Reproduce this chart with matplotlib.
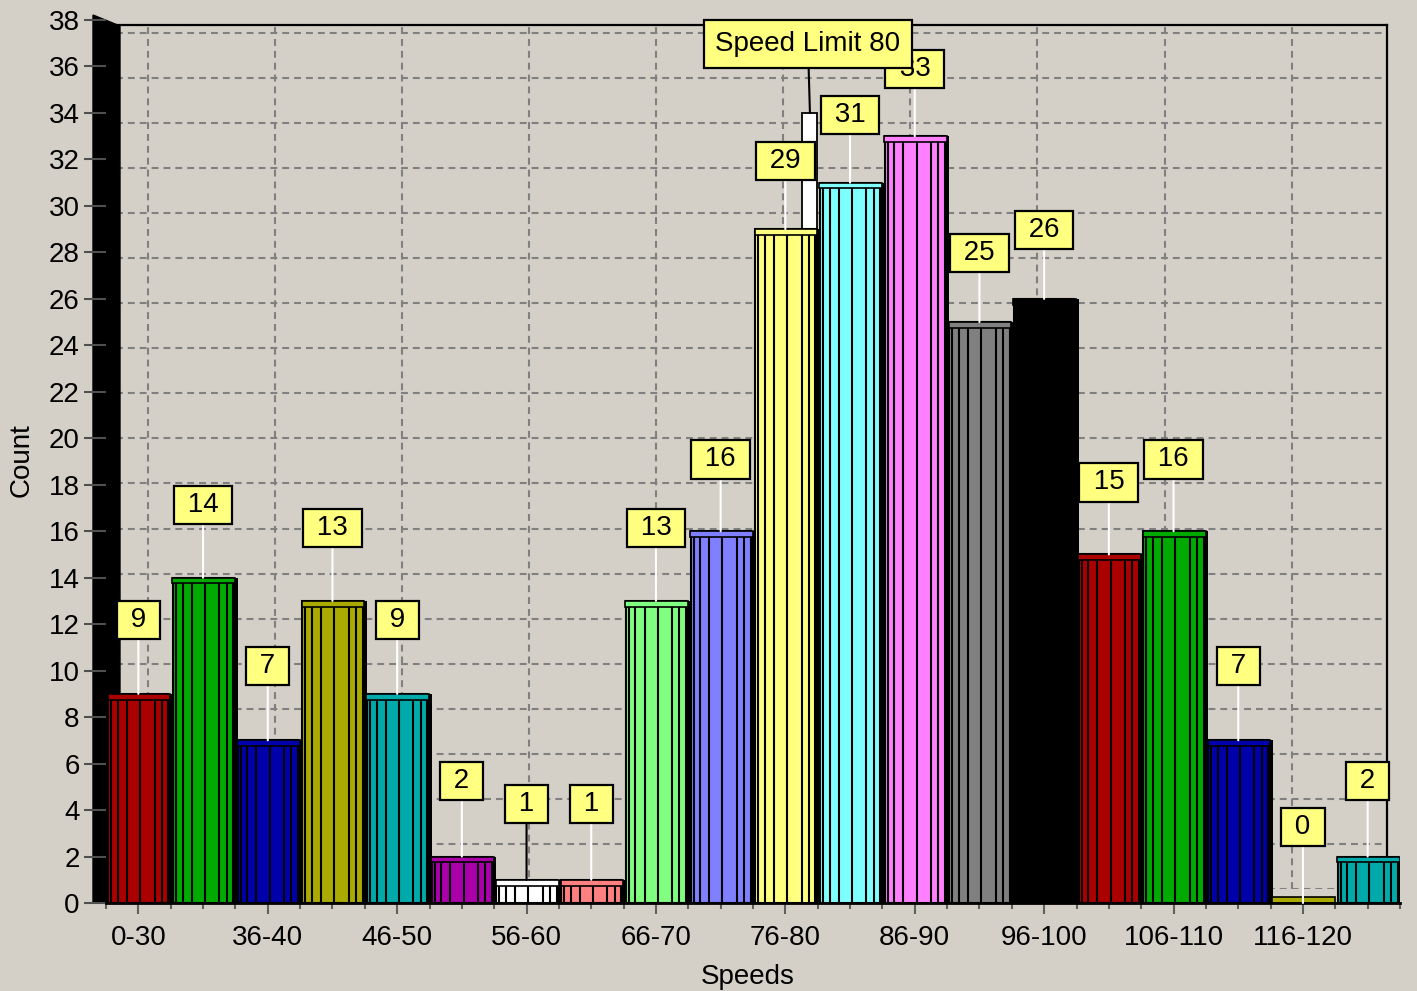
import matplotlib
matplotlib.use('Agg')
import matplotlib.pyplot as plt
from matplotlib.patches import Polygon
from matplotlib.ticker import FixedLocator
import numpy as np

# ---------------- data ----------------
categories = ['0-30', '31-35', '36-40', '41-45', '46-50', '51-55', '56-60', '61-65',
              '66-70', '71-75', '76-80', '81-85', '86-90', '91-95', '96-100',
              '101-105', '106-110', '111-115', '116-120', '121-125']
counts = [9, 14, 7, 13, 9, 2, 1, 1, 13, 16, 29, 31, 33, 25, 26, 15, 16, 7, 0, 2]
bar_colors = ['#AA0000', '#00AA00', '#0000AA', '#AAAA00', '#00AAAA', '#AA00AA',
              '#FFFFFF', '#FF8080', '#80FF80', '#8080FF', '#FFFF80', '#80FFFF',
              '#FF80FF', '#808080', '#000000', '#AA0000', '#00AA00', '#0000AA',
              '#AAAA00', '#00AAAA']
y_ticks = list(range(0, 39, 2))
limit_label = 'Speed Limit 80'
limit_value = 34
limit_pos = 10.38
x_label = 'Speeds'
y_label = 'Count'

# ---------------- style ----------------
W, H = 1417, 991
BG = '#D4D0C8'
FS = 20
plt.rcParams['font.family'] = ['Liberation Sans', 'DejaVu Sans']

fig = plt.figure(figsize=(W / 100, H / 100), dpi=100, facecolor=BG)


def fx(x):
    return x / W


def fy(y):
    return 1 - y / H


# back plane (grid + frame)
back = fig.add_axes([fx(116), fy(889), (1387 - 116) / W, (889 - 25) / H])
back.set_facecolor(BG)
back.set_xlim(-0.5, 19.5)
back.set_ylim(0, 38.35)
back.set_xticks(range(0, 20, 2))
back.set_yticks(y_ticks)
back.grid(True, ls=(0, (3.3, 2.4)), color='#808080', lw=1.5)
back.tick_params(length=0, labelleft=False, labelbottom=False)
for s in ['left', 'bottom']:
    back.spines[s].set_visible(False)
for s in ['top', 'right']:
    back.spines[s].set_linewidth(1.6)
    back.spines[s].set_color('black')

# left black wall
wall_px = [(93, 15), (120, 26), (120, 898), (106, 903), (93, 903)]
wall = Polygon([(fx(a), fy(b)) for a, b in wall_px], closed=True,
               transform=fig.transFigure, fc='black', ec='black', clip_on=False, zorder=5)
back.add_patch(wall)

# front plane (bars)
ax = fig.add_axes([fx(106), fy(903), (1400 - 106) / W, (903 - 20) / H])
ax.patch.set_alpha(0)
ax.set_xlim(-0.5, 19.5)
ax.set_ylim(0, 38)

x = np.arange(len(counts))
vals = np.array(counts, dtype=float)
face_w = 0.93

# speed limit marker
ax.bar(limit_pos, limit_value, width=0.23, color='white', edgecolor='black',
       linewidth=1.3, zorder=1.5)

# dark side of each bar
ax.bar(x + face_w / 2 + 0.035, vals, width=0.07, color='black', linewidth=0, zorder=1.8)
# faces
ax.bar(x, vals, width=face_w, color=bar_colors, edgecolor='black', linewidth=1.5, zorder=2)
# cylinder stripes
rel = np.array([0.05, 0.16, 0.31, 0.53, 0.77, 0.89])
cap_h = 0.25
for i, v in enumerate(counts):
    xs = i - face_w / 2 + face_w * rel
    top = max(v - cap_h, 0)
    if top > 0:
        ax.vlines(xs, 0, top, colors='black', linewidth=1.5, zorder=2.1)
# caps
cap_bottom = np.maximum(vals - cap_h, 0)
ax.bar(x + 0.01, np.full_like(vals, cap_h), bottom=cap_bottom, width=face_w + 0.04,
       color=bar_colors, edgecolor='black', linewidth=1.2, zorder=2.2)

# value labels
box = dict(boxstyle='square,pad=0.22', fc='#FFFF80', ec='black', lw=1.6)
for i, v in enumerate(counts):
    lc = 'black' if bar_colors[i].upper() == '#FFFFFF' else 'white'
    off = 57 - 0.27 * v + 6.1
    ax.annotate(f' {v} ', xy=(i, v), xytext=(0, off), textcoords='offset pixels',
                ha='center', va='bottom', fontsize=FS, zorder=6, bbox=box,
                arrowprops=dict(arrowstyle='-', color=lc, lw=1.5, shrinkA=0, shrinkB=0))

ax.annotate(f'{limit_label}', xy=(limit_pos, limit_value), xytext=(-2, 50 + 6.1),
            textcoords='offset pixels', ha='center', va='bottom', fontsize=FS, zorder=7,
            bbox=dict(boxstyle='square,pad=0.4', fc='#FFFF80', ec='black', lw=1.6),
            arrowprops=dict(arrowstyle='-', color='black', lw=1.5, shrinkA=0, shrinkB=0))

# axes / ticks
for s in ['left', 'top', 'right']:
    ax.spines[s].set_visible(False)
ax.spines['bottom'].set_linewidth(2)
ax.spines['bottom'].set_color('black')

ax.set_yticks(y_ticks)
ax.tick_params(axis='y', which='major', length=16, width=1.5, color='#505050',
               pad=3, labelsize=FS)
ax.set_xticks(range(0, 20, 2))
ax.set_xticklabels(categories[::2])
ax.xaxis.set_minor_locator(FixedLocator([k * 0.5 for k in range(-1, 40) if k % 4 != 0]))
ax.tick_params(axis='x', which='major', length=8, width=1.5, color='#606060',
               pad=8, labelsize=FS)
ax.tick_params(axis='x', which='minor', length=4, width=1.5, color='#606060')

fig.text(fx(22), fy(460), y_label, rotation=90, ha='center', va='center', fontsize=FS)
fig.text(fx(748), fy(977), x_label, ha='center', va='center', fontsize=FS)

fig.savefig('out.png', dpi=100, facecolor=BG)
